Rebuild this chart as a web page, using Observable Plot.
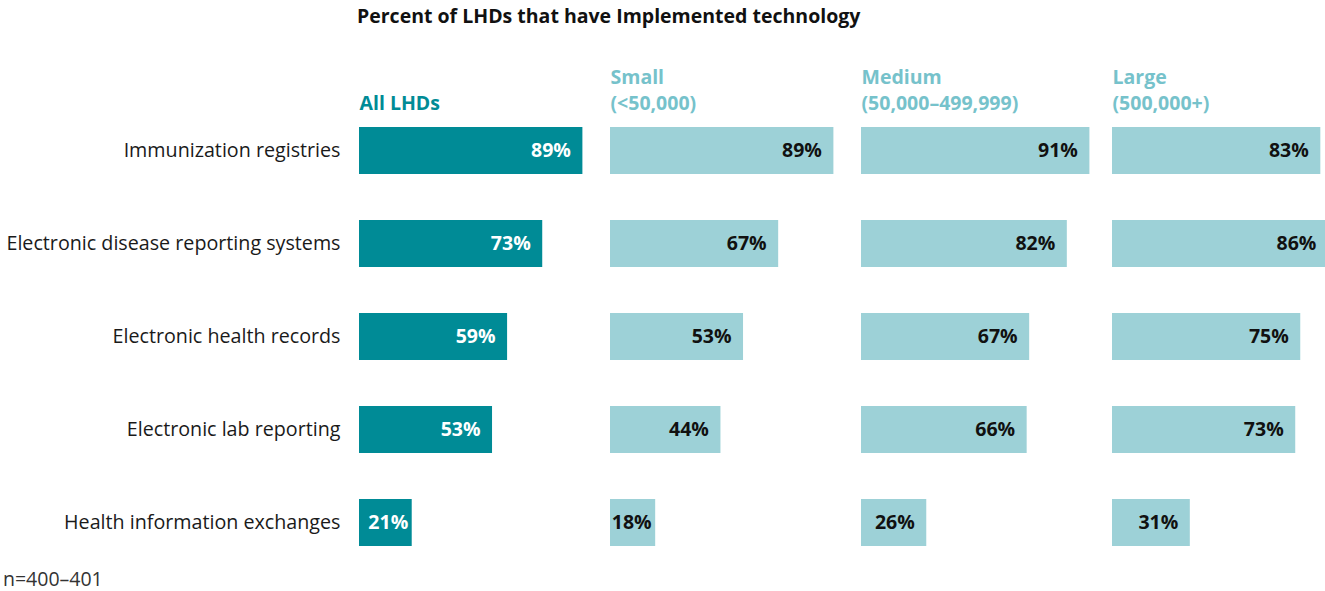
<!DOCTYPE html>
<html>
<head>
<meta charset="utf-8">
<script src="https://cdn.jsdelivr.net/npm/d3@7"></script>
<script src="https://cdn.jsdelivr.net/npm/@observablehq/plot@0.6"></script>
<style>
  html, body { margin: 0; padding: 0; background: #fff; overflow: hidden; }
  #wrap { position: relative; width: 1325px; height: 591px; overflow: hidden; font-family: "Open Sans", sans-serif; }
  #title { position: absolute; left: 357px; top: 2px; font-size: 19.5px; font-weight: bold; color: #111; white-space: nowrap; }
  #caption { position: absolute; left: 3px; top: 565px; font-size: 19.5px; color: #333; white-space: nowrap; }
  #chart { position: absolute; left: 0; top: 0; }
</style>
</head>
<body>
<div id="wrap">
  <div id="chart"></div>
  <div id="title">Percent of LHDs that have Implemented technology</div>
  <div id="caption">n=400–401</div>
</div>
<script>
const categories = [
  "Immunization registries",
  "Electronic disease reporting systems",
  "Electronic health records",
  "Electronic lab reporting",
  "Health information exchanges"
];
const groups = ["All LHDs", "Small", "Medium", "Large"];
const headerLine1 = ["", "Small", "Medium", "Large"];
const headerLine2 = ["All LHDs", "(<50,000)", "(50,000–499,999)", "(500,000+)"];
const allLHDs = [89, 73, 59, 53, 21];
const small   = [89, 67, 53, 44, 18];
const medium  = [91, 82, 67, 66, 26];
const large   = [83, 86, 75, 73, 31];

const series = [allLHDs, small, medium, large];
const rows = [];
groups.forEach((g, gi) => categories.forEach((c, ci) => rows.push({group: g, category: c, value: series[gi][ci]})));
const headers = groups.map((g, i) => ({group: g, line1: headerLine1[i], line2: headerLine2[i]}));

const DARK = "#008b96";
const LIGHT = "#9dd1d7";
const HEAD_LIGHT = "#76c2cb";

const isAll = d => d.group === "All LHDs";
const bigAll = rows.filter(d => isAll(d) && d.value >= 25);
const smallAll = rows.filter(d => isAll(d) && d.value < 25);
const bigOther = rows.filter(d => !isAll(d) && d.value >= 25);
const smallOther = rows.filter(d => !isAll(d) && d.value < 25);

const lab = d => d.value + "%";
const common = {fx: "group", y: "category", x: "value", text: lab, textAnchor: "end", fontWeight: "bold", fontSize: 19.5};

const chart = Plot.plot({
  width: 1363,
  height: 569,
  marginLeft: 359,
  marginRight: 0,
  marginTop: 104,
  marginBottom: 0,
  style: {fontFamily: "Open Sans, sans-serif", fontSize: "19.7px", color: "#1a1a1a", maxWidth: "none", background: "transparent"},
  fx: {domain: groups, padding: 0, axis: null, label: null},
  x: {domain: [0, 100], axis: null},
  y: {domain: categories, paddingInner: 0.5, paddingOuter: 0.25, axis: "left", tickSize: 0, tickPadding: 19, label: null},
  color: {domain: groups, range: [DARK, LIGHT, LIGHT, LIGHT]},
  marks: [
    Plot.barX(rows, {fx: "group", y: "category", x: "value", fill: "group"}),
    Plot.text(bigAll, {...common, dx: -12, fill: "white"}),
    Plot.text(smallAll, {...common, dx: -4, fill: "white"}),
    Plot.text(bigOther, {...common, dx: -12, fill: "#111"}),
    Plot.text(smallOther, {...common, dx: -4, fill: "#111"}),
    Plot.text(headers.filter(d => d.group === "All LHDs"), {fx: "group", text: "line2", frameAnchor: "top-left", textAnchor: "start", lineAnchor: "middle", dy: -1, fill: DARK, fontWeight: "bold", fontSize: 19.5}),
    Plot.text(headers.filter(d => d.group !== "All LHDs"), {fx: "group", text: "line2", frameAnchor: "top-left", textAnchor: "start", lineAnchor: "middle", dy: -1, fill: HEAD_LIGHT, fontWeight: "bold", fontSize: 19.5}),
    Plot.text(headers.filter(d => d.group !== "All LHDs"), {fx: "group", text: "line1", frameAnchor: "top-left", textAnchor: "start", lineAnchor: "middle", dy: -27, fill: HEAD_LIGHT, fontWeight: "bold", fontSize: 19.5})
  ]
});
document.getElementById("chart").appendChild(chart);
</script>
</body>
</html>
